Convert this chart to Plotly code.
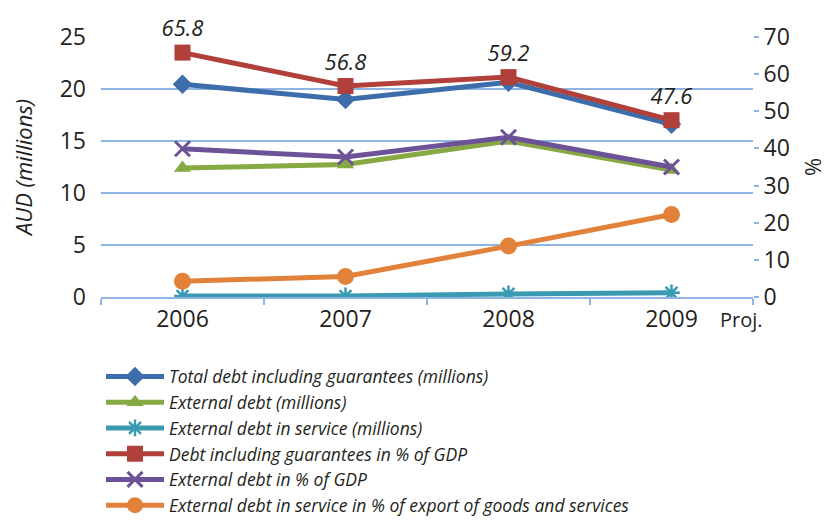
import plotly.graph_objects as go

years = ["2006", "2007", "2008", "2009"]

total_debt_m = [20.45, 19.0, 20.65, 16.6]
external_debt_m = [12.4, 12.75, 15.0, 12.2]
ext_service_m = [0.1, 0.1, 0.3, 0.4]
debt_pct_gdp = [65.8, 56.8, 59.2, 47.6]
ext_pct_gdp = [39.9, 37.7, 43.0, 35.0]
ext_service_pct_export = [4.25, 5.5, 13.7, 22.2]

grid_col = "#8DB4E2"
txt_col = "#231F20"
font = "Open Sans"

fig = go.Figure()

fig.add_trace(go.Scatter(x=years, y=total_debt_m, mode="lines+markers",
                         name="Total debt including guarantees (millions)",
                         line=dict(color="#3D6DAA", width=5),
                         marker=dict(symbol="diamond", size=15, color="#3D6DAA")))
fig.add_trace(go.Scatter(x=years, y=external_debt_m, mode="lines+markers",
                         name="External debt (millions)",
                         line=dict(color="#86A944", width=5),
                         marker=dict(symbol="triangle-up", size=15, color="#86A944")))
fig.add_trace(go.Scatter(x=years, y=ext_service_m, mode="lines+markers",
                         name="External debt in service (millions)",
                         line=dict(color="#3A9AB1", width=5),
                         marker=dict(symbol="asterisk-open", size=14,
                                     line=dict(color="#3A9AB1", width=2.5))))
fig.add_trace(go.Scatter(x=years, y=debt_pct_gdp, mode="lines+markers+text",
                         name="Debt including guarantees in % of GDP", yaxis="y2",
                         text=[f"{v:.1f}" for v in debt_pct_gdp],
                         textposition="top center", cliponaxis=False,
                         textfont=dict(family=font, size=22, color=txt_col, style="italic"),
                         line=dict(color="#B1403B", width=5),
                         marker=dict(symbol="square", size=16, color="#B1403B")))
fig.add_trace(go.Scatter(x=years, y=ext_pct_gdp, mode="lines+markers",
                         name="External debt in % of GDP", yaxis="y2",
                         line=dict(color="#6E5298", width=5),
                         marker=dict(symbol="x-thin-open", size=15,
                                     line=dict(color="#6E5298", width=3))))
fig.add_trace(go.Scatter(x=years, y=ext_service_pct_export, mode="lines+markers",
                         name="External debt in service in % of export of goods and services",
                         yaxis="y2",
                         line=dict(color="#E2823A", width=5),
                         marker=dict(symbol="circle", size=17, color="#E2823A")))

# page body has an 8px margin, so the figure is 8px smaller each way
fig.update_layout(
    width=828, height=514,
    margin=dict(l=92, r=83, t=25, b=225),
    paper_bgcolor="white", plot_bgcolor="white",
    font=dict(family=font, size=22, color=txt_col),
    showlegend=True,
    legend=dict(x=0.0, y=0.318, xanchor="left", yanchor="top", yref="container",
                font=dict(family=font, size=17.5, color=txt_col, style="italic"),
                tracegroupgap=0, itemwidth=58, bgcolor="rgba(0,0,0,0)"),
    xaxis=dict(type="category", range=[-0.5, 3.5], showline=True, linecolor=grid_col,
               linewidth=2, ticks="outside", tickson="boundaries", ticklen=6,
               tickcolor=grid_col, tickwidth=2, showgrid=False, tickfont=dict(size=23),
               ticklabelstandoff=0),
    yaxis=dict(range=[0, 25], dtick=5, showgrid=True, gridcolor=grid_col, gridwidth=2,
               zeroline=False, showline=False, ticks="", ticklabelstandoff=14,
               tickfont=dict(size=23),
               title=dict(text="<i>AUD (millions)</i>", font=dict(size=22), standoff=24)),
    yaxis2=dict(range=[0, 70], dtick=10, overlaying="y", side="right", showgrid=False,
                zeroline=False, showline=False, ticks="outside", ticklen=5,
                tickcolor=grid_col, tickwidth=2, tickfont=dict(size=23),
                title=dict(text="%", font=dict(size=22), standoff=16)),
)

fig.add_annotation(text="Proj.", xref="paper", yref="paper", x=0.946, y=-0.087,
                   xanchor="left", yanchor="middle", showarrow=False,
                   font=dict(size=20, color=txt_col))

fig.write_html("out.html")
